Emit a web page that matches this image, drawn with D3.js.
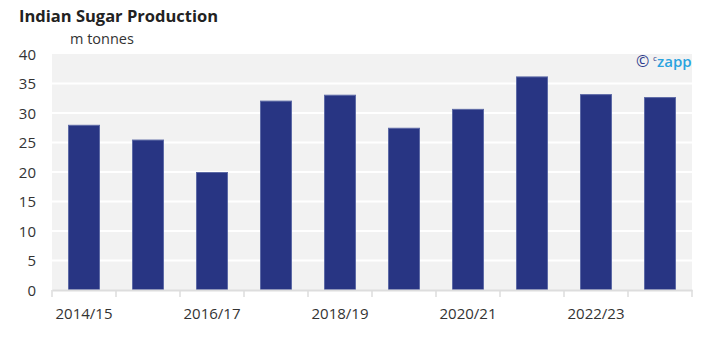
<!DOCTYPE html>
<html><head><meta charset="utf-8">
<script src="https://cdn.jsdelivr.net/npm/d3@7"></script>
<style>body{margin:0;background:#fff;}svg{display:block;font-family:"Open Sans",sans-serif;}</style>
</head><body>
<svg id="chart" width="714" height="339"></svg>
<script>
const categories = ["2014/15","2015/16","2016/17","2017/18","2018/19","2019/20","2020/21","2021/22","2022/23","2023/24"];
const values = [28.0, 25.5, 20.0, 32.1, 33.1, 27.5, 30.7, 36.2, 33.2, 32.7];
const yTicks = [0,5,10,15,20,25,30,35,40];
const xLabelShown = ["2014/15","2016/17","2018/19","2020/21","2022/23"];

const svg = d3.select("#chart");
const m = {left:52, right:22, top:54, bottom:49};
const W = 714, H = 339;
const x = d3.scaleBand().domain(categories).range([m.left, W-m.right]).paddingInner(0.5).paddingOuter(0.25);
const xb = d3.scaleBand().domain(categories).range([m.left, W-m.right]);
const y = d3.scaleLinear().domain([0,40]).range([H-m.bottom, m.top]);

svg.append("rect").attr("x",m.left).attr("y",m.top).attr("width",W-m.left-m.right).attr("height",H-m.top-m.bottom).attr("fill","#f2f2f2");

svg.append("g").selectAll("line").data(yTicks.filter(d=>d>0&&d<40)).join("line")
  .attr("x1",m.left).attr("x2",W-m.right).attr("y1",d=>y(d)).attr("y2",d=>y(d))
  .attr("stroke","#fff").attr("stroke-width",2);

svg.append("g").selectAll("rect").data(values).join("rect")
  .attr("x",(d,i)=>x(categories[i])+0.5).attr("width",x.bandwidth()-1)
  .attr("y",d=>y(d)+0.5).attr("height",d=>y(0)-y(d)-0.5)
  .attr("fill","#283583").attr("stroke","#5d6aa6").attr("stroke-width",1);

// y axis labels
const ya = svg.append("g").attr("transform",`translate(${m.left-16},0)`)
  .call(d3.axisLeft(y).tickValues(yTicks).tickSize(0).tickPadding(0));
ya.select(".domain").remove();
ya.selectAll("text").attr("font-size",15).attr("fill","#333").attr("font-family","Open Sans").attr("dy","0.35em");

// x axis
const xa = svg.append("g").attr("transform",`translate(0,${H-m.bottom})`)
  .call(d3.axisBottom(xb).tickSize(0).tickPadding(18).tickFormat(d=>xLabelShown.includes(d)?d:""));
xa.select(".domain").attr("stroke","#ddd").attr("stroke-width",2);
xa.selectAll("text").attr("font-size",15).attr("fill","#333").attr("font-family","Open Sans");
const bounds = categories.map(c=>xb(c)).concat([W-m.right]);
svg.append("g").selectAll("line").data(bounds).join("line")
  .attr("x1",d=>d).attr("x2",d=>d).attr("y1",H-m.bottom).attr("y2",H-m.bottom+7)
  .attr("stroke","#ddd").attr("stroke-width",1.5);

svg.append("text").attr("x",19).attr("y",22).attr("font-size",16.5).attr("font-weight","bold").attr("fill","#222").text("Indian Sugar Production");
svg.append("text").attr("x",70).attr("y",44).attr("font-size",14.5).attr("fill","#333").text("m tonnes");

// watermark
const wm = svg.append("g").attr("transform","translate(636,67)");
wm.append("text").attr("x",0).attr("y",0).attr("font-size",16).attr("fill","#2d3a8c").text("©");
wm.append("text").attr("x",17).attr("y",-6).attr("font-size",8).attr("fill","#2d3a8c").text("c");
wm.append("text").attr("x",21).attr("y",0).attr("font-size",15).attr("fill","#29a3df").attr("font-weight","600").text("zapp");
</script>
</body></html>
